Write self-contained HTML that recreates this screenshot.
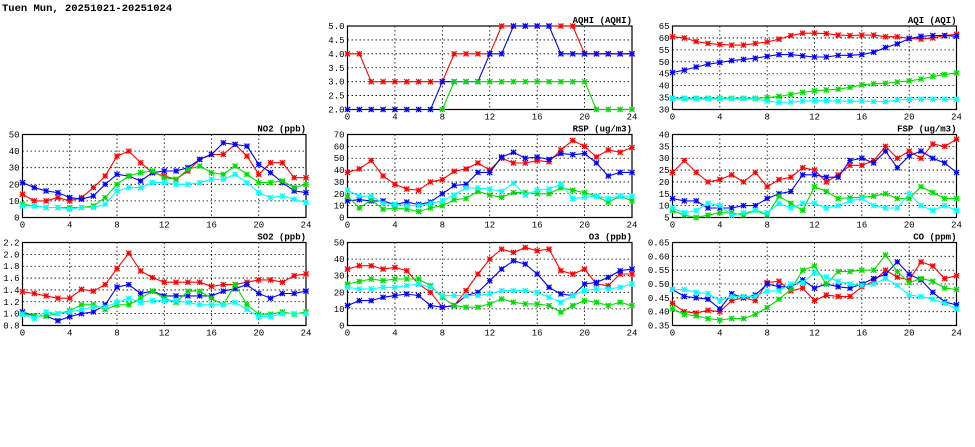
<!DOCTYPE html>
<html><head><meta charset="utf-8"><style>
html,body{margin:0;padding:0;background:#fff;width:975px;height:447px;overflow:hidden}
svg{display:block;font-family:"Liberation Mono","DejaVu Sans Mono",monospace}
</style></head><body>
<svg id="c" width="975" height="447" viewBox="0 0 975 447">
<text x="2" y="11" font-size="10.5" font-weight="bold">Tuen Mun, 20251021-20251024</text>
</svg>
<script>
const hours = [0,1,2,3,4,5,6,7,8,9,10,11,12,13,14,15,16,17,18,19,20,21,22,23,24];
const xTicks = [0,4,8,12,16,20,24];
const seriesColors = ["#ff0000","#0000ff","#00dd00","#00ffff"];

const aqhiRed = [4,4,3,3,3,3,3,3,3,4,4,4,4,5,5,5,5,5,5,5,4,4,4,4,4];
const aqhiBlue = [2,2,2,2,2,2,2,2,3,3,3,3,4,4,5,5,5,5,4,4,4,4,4,4,4];
const aqhiGreen = [null,null,null,null,null,null,null,null,2,3,3,3,3,3,3,3,3,3,3,3,3,2,2,2,2];
const aqhiTicks = [2.0,2.5,3.0,3.5,4.0,4.5,5.0];

const aqiRed = [60.5,60,58.5,57.7,57.3,57,57,57.7,58.3,59.5,61,62,62,61.8,61.2,61,61.2,61.2,60.5,60.5,59.8,59.5,60,61,61.5];
const aqiBlue = [45.5,46.5,47.8,49,49.7,50.5,51,51.5,52.3,53,53,52.5,52,52,52.7,52.7,53,54,56,57.5,59.7,60.7,61,61,60.7];
const aqiGreen = [34.7,34.7,34.7,34.7,34.7,34.7,34.7,34.7,35,35.5,36.3,37.2,37.8,38.2,38.5,39.3,40.3,40.8,41,41.5,42,42.8,43.8,44.7,45.3];
const aqiCyan = [34.5,34.5,34.5,34.5,34.5,34.5,34.5,34.5,33.5,33,33.2,33.5,33.7,33.7,33.5,33.5,33.5,33.3,33.3,34,34.3,34.3,34.3,34.3,34.3];
const aqiTicks = [30,35,40,45,50,55,60,65];

const no2Red = [14,10,10,12,10,12,18,25,37,40,33,27,25,23,28,35,38,38,44,37,26,33,33,24,24];
const no2Blue = [21,18,16,15,12,11,13,20,26,25,22,27,28,28,30,35,38,45,44,43,32,27,21,16,15];
const no2Green = [8,7,6,6,6,6,7,12,20,25,27,28,24,23,29,31,27,26,31,26,21,21,22,18,20];
const no2Cyan = [7,7,6,6,5,6,6,8,16,18,18,21,21,20,20,21,23,23,26,21,15,12,13,11,9];
const no2Ticks = [0,10,20,30,40,50];

const rspRed = [38,41,48,35,28,24,23,30,32,39,41,46,40,50,46,46,48,47,57,65,60,51,57,55,59];
const rspBlue = [14,15,14,14,11,13,11,13,20,27,28,38,38,51,55,50,51,49,54,53,54,46,35,38,38];
const rspGreen = [18,8,15,7,8,7,5,8,10,15,16,22,19,17,21,21,20,20,25,23,21,18,13,18,14];
const rspCyan = [23,18,18,12,11,10,10,12,14,19,25,25,24,22,29,19,23,24,28,16,17,18,16,18,18];
const rspTicks = [0,10,20,30,40,50,60,70];

const fspRed = [24,29,24,20,21,23,20,24,18,21,22,26,25,20,23,27,27,29,35,30,33,30,36,35,38];
const fspBlue = [13,12,12,9,9,9,10,10,13,15,16,23,23,22,22,29,30,28,33,26,31,33,30,28,24];
const fspGreen = [8,6,5,6,7,7,6,8,6,14,11,8,18,16,13,13.3,13.5,14,15,13,13,18,15.5,13,13];
const fspCyan = [9,7,8,11,10,6,7,8,7,11,9,11,11,9,10,12,13,10,9,9,15,10,8,10,8];
const fspTicks = [5,10,15,20,25,30,35,40];

const so2Red = [1.37,1.34,1.30,1.26,1.26,1.41,1.38,1.49,1.76,2.02,1.72,1.61,1.53,1.53,1.53,1.53,1.46,1.49,1.49,1.53,1.57,1.57,1.53,1.64,1.67];
const so2Blue = [1.03,0.96,0.96,0.88,0.95,1.00,1.03,1.15,1.45,1.49,1.34,1.38,1.30,1.30,1.30,1.30,1.30,1.38,1.42,1.49,1.34,1.26,1.34,1.34,1.38];
const so2Green = [1.0,0.96,0.96,1.0,1.05,1.15,1.15,1.07,1.15,1.15,1.26,1.38,1.26,1.19,1.38,1.38,1.26,1.15,1.49,1.15,0.99,0.99,1.03,0.99,1.03];
const so2Cyan = [0.99,0.92,1.03,1.0,1.03,1.07,1.11,1.11,1.19,1.26,1.19,1.22,1.22,1.22,1.19,1.15,1.15,1.15,1.19,1.07,0.95,0.95,1.0,1.0,1.0];
const so2Ticks = [0.8,1.0,1.2,1.4,1.6,1.8,2.0,2.2];

const o3Red = [34,36,36,34,35,33,25,20,11,12,21,31,40,46,44,47,45,46,33,31,34,25,24,31,31];
const o3Blue = [12,15,15,17,18,19,18,12,11,12,18,20,27,34,39,37,31,23,19,18,25,26,29,33,34];
const o3Green = [25,26.5,28,27,28,28,28,24,17,12,11,11,13,16,14,13,13,12,8,12,15,14,12,14,12];
const o3Cyan = [23,22,22,23,23,24,25,23,18,18,18,18,19,21,21,21,20,17,14,18,21,22,22,23,25];
const o3Ticks = [0,10,20,30,40,50];

const coRed = [.43,.40,.395,.405,.40,.44,.45,.44,.505,.51,.475,.485,.44,.46,.455,.455,.49,.51,.55,.525,.515,.58,.565,.52,.53];
const coBlue = [.48,.455,.45,.445,.41,.465,.45,.46,.50,.49,.49,.515,.485,.50,.49,.485,.50,.52,.535,.58,.535,.515,.47,.435,.425];
const coGreen = [.41,.39,.385,.375,.37,.375,.375,.39,.415,.445,.48,.55,.565,.50,.545,.545,.55,.55,.605,.545,.505,.52,.51,.485,.48];
const coCyan = [.48,.48,.47,.465,.44,.455,.455,.455,.475,.475,.50,.505,.54,.525,.51,.50,.495,.50,.52,.495,.46,.455,.445,.43,.41];
const coTicks = [0.35,0.40,0.45,0.50,0.55,0.60,0.65];

const NS = "http://www.w3.org/2000/svg";
const svg = document.getElementById("c");
function mk(tag, attrs, parent){
  const e = document.createElementNS(NS, tag);
  for (const k in attrs) e.setAttribute(k, attrs[k]);
  (parent||svg).appendChild(e);
  return e;
}

function panel(name, title, x0, x1, y0, y1, ticks, dec, series){
  const g = mk("g", {});
  
  
  const vmin = ticks[0], vmax = ticks[ticks.length-1];
  const X = h => x0 + (h/24)*(x1-x0);
  const Y = v => y1 - (v-vmin)/(vmax-vmin)*(y1-y0);
  // grid
  ticks.forEach((t,i)=>{
    if(i>0 && i<ticks.length-1){
      const l = mk("line",{x1:x0,x2:x1,y1:Y(t),y2:Y(t),stroke:"#000","stroke-width":0.8,"stroke-dasharray":"1.5,2.5"},g);
      
      
    }
    const tx = mk("text",{x:x0-3,y:Y(t)+3,"font-size":"9","text-anchor":"end"},g);
    tx.textContent = t.toFixed(dec);
    
    
  });
  xTicks.forEach((t,i)=>{
    if(i>0 && i<xTicks.length-1){
      const l = mk("line",{x1:X(t),x2:X(t),y1:y0,y2:y1,stroke:"#000","stroke-width":0.8,"stroke-dasharray":"1.5,2.5"},g);
      
      
    }
    const tx = mk("text",{x:X(t),y:y1+10,"font-size":"9","text-anchor":"middle"},g);
    tx.textContent = String(t);
    
    
  });
  const fr = mk("rect",{x:x0,y:y0,width:x1-x0,height:y1-y0,fill:"none",stroke:"#000","stroke-width":1.2},g);
  
  
  const tt = mk("text",{x:x1,y:y0-3,"font-size":"9","text-anchor":"end","font-weight":"bold"},g);
  tt.textContent = title;
  
  
  series.forEach((vals,si)=>{
    if(!vals) return;
    const col = seriesColors[si];
    let d = "", pen = false;
    vals.forEach((v,i)=>{
      if(v===null){pen=false;return;}
      d += (pen?"L":"M") + X(hours[i]).toFixed(1) + "," + Y(v).toFixed(1);
      pen = true;
    });
    const p = mk("path",{d:d,fill:"none",stroke:col,"stroke-width":1.1},g);
    
    
    vals.forEach((v,i)=>{
      if(v===null) return;
      const cx = X(hours[i]), cy = Y(v), r = 2.6;
      const m = mk("path",{d:`M${cx-r},${cy-r}L${cx+r},${cy+r}M${cx-r},${cy+r}L${cx+r},${cy-r}M${cx-r},${cy}L${cx+r},${cy}M${cx},${cy-r}L${cx},${cy+r}`,stroke:col,"stroke-width":1.2,fill:"none"},g);
      
      
    });
  });
}

const LX=[22.5,347.5,672.5], RX=[306,632,956.5];
const R1=[26,109.5], R2=[134.5,217.5], R3=[242.5,325.5];
panel("aqhi","AQHI (AQHI)",LX[1],RX[1],R1[0],R1[1],aqhiTicks,1,[aqhiRed,aqhiBlue,aqhiGreen,null]);
panel("aqi","AQI (AQI)",LX[2],RX[2],R1[0],R1[1],aqiTicks,0,[aqiRed,aqiBlue,aqiGreen,aqiCyan]);
panel("no2","NO2 (ppb)",LX[0],RX[0],R2[0],R2[1],no2Ticks,0,[no2Red,no2Blue,no2Green,no2Cyan]);
panel("rsp","RSP (ug/m3)",LX[1],RX[1],R2[0],R2[1],rspTicks,0,[rspRed,rspBlue,rspGreen,rspCyan]);
panel("fsp","FSP (ug/m3)",LX[2],RX[2],R2[0],R2[1],fspTicks,0,[fspRed,fspBlue,fspGreen,fspCyan]);
panel("so2","SO2 (ppb)",LX[0],RX[0],R3[0],R3[1],so2Ticks,1,[so2Red,so2Blue,so2Green,so2Cyan]);
panel("o3","O3 (ppb)",LX[1],RX[1],R3[0],R3[1],o3Ticks,0,[o3Red,o3Blue,o3Green,o3Cyan]);
panel("co","CO (ppm)",LX[2],RX[2],R3[0],R3[1],coTicks,2,[coRed,coBlue,coGreen,coCyan]);
</script>
</body></html>
